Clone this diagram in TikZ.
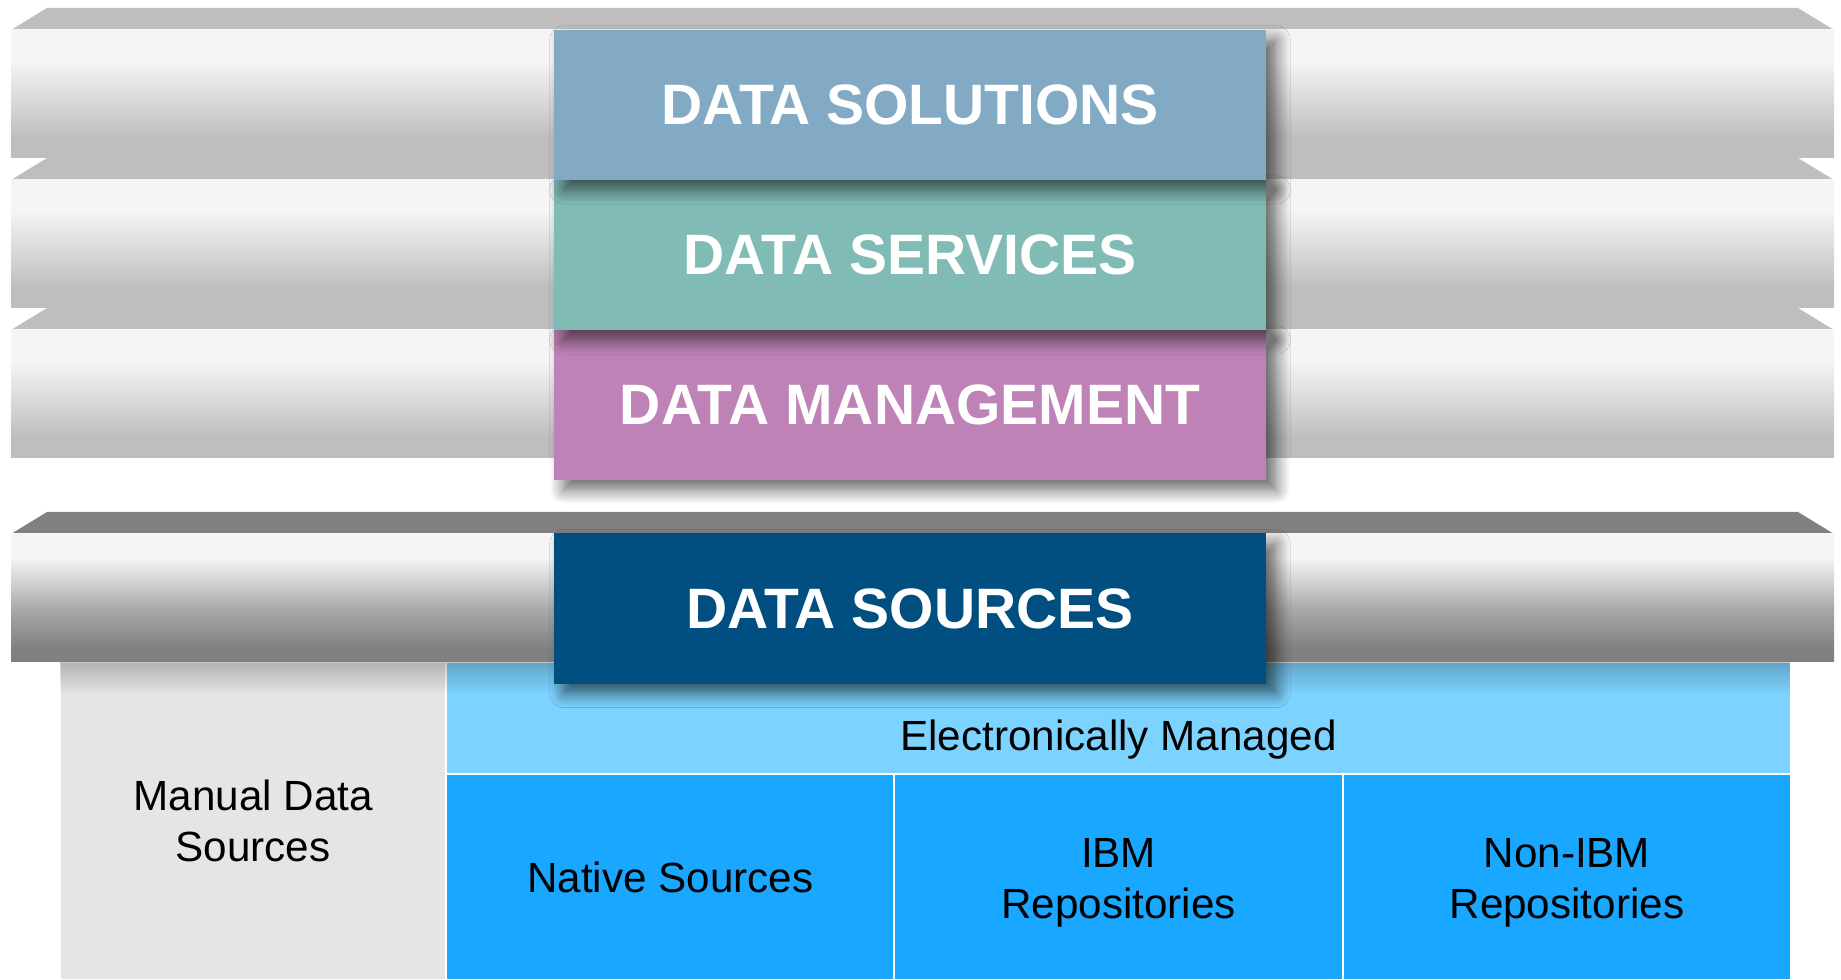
\documentclass[tikz,border=0pt]{standalone}
\usepackage{fontspec}
\setmainfont{Liberation Sans}
\usetikzlibrary{shadows.blur,fadings,positioning}

\definecolor{solcol}{HTML}{82AAC4}
\definecolor{svccol}{HTML}{80BBB5}
\definecolor{mgtcol}{HTML}{BE82B6}
\definecolor{srccol}{HTML}{004F80}
\definecolor{manualcol}{HTML}{E5E5E5}
\definecolor{elecol}{HTML}{7DD3FF}
\definecolor{repocol}{HTML}{1AA7FF}
\definecolor{toplight}{HTML}{BEBEBE}
\definecolor{topdark}{HTML}{808080}
\definecolor{facelight}{HTML}{F5F5F5}
\definecolor{facemid}{HTML}{D8D8D8}
\definecolor{darkmid}{HTML}{CDCDCD}
\definecolor{darklow}{HTML}{A6A6A6}

\pgfdeclareverticalshading{lightface}{100bp}{color(0bp)=(toplight); color(33bp)=(toplight);
  color(47bp)=(facemid); color(63bp)=(facelight); color(100bp)=(facelight)}
\pgfdeclareverticalshading{darkface}{100bp}{color(0bp)=(topdark); color(30bp)=(topdark);
  color(45bp)=(darklow); color(55bp)=(darkmid); color(66bp)=(facelight); color(100bp)=(facelight)}
\tikzfading[name=fadedown, top color=transparent!0, bottom color=transparent!100]

\begin{document}
\begin{tikzpicture}[x=0.01cm, y=-0.01cm,
    layer/.style={minimum width=7.12cm, minimum height=1.5cm, inner sep=0pt, text=white,
      font=\bfseries\fontsize{16.2}{19}\selectfont,
      blur shadow={shadow xshift=0.1cm, shadow yshift=-0.1cm, shadow blur radius=0.14cm,
        shadow blur steps=10, shadow opacity=60}},
    cell/.style={draw=white, line width=0.02cm, inner sep=0pt, outer sep=0pt, align=center,
      font=\fontsize{12}{14.6}\selectfont},
    repo/.style={cell, fill=repocol, minimum width=4.48cm, minimum height=2.06cm}]
    \useasboundingbox (0,0) rectangle (1841,980);

    % source cells
    \node[cell, fill=manualcol, minimum width=3.86cm, minimum height=3.18cm, anchor=north west] (manual) at (60,662) {Manual Data\\Sources};
    \node[cell, fill=elecol, minimum width=13.44cm, minimum height=1.12cm, anchor=north west,
      text height=0.75cm, text depth=0.1cm] (elec) at (manual.north east) {Electronically Managed};
    \node[repo, anchor=north west] (native) at (elec.south west) {Native Sources};
    \node[repo, right=0pt of native, text height=0.92cm] (ibm) {IBM\\Repositories};
    \node[repo, right=0pt of ibm, text height=0.92cm] (nonibm) {Non-IBM\\Repositories};
    \fill[black, opacity=0.22, path fading=fadedown] (60,662) rectangle (1790,694);

    % bottom bar
    \fill[topdark] (11,534) -- (47,512) -- (1798,512) -- (1834,534) -- cycle;
    \shade[shading=darkface] (11,534) rectangle (1834,662);
    \node[layer, fill=srccol] (src) at (910,608.5) {DATA SOURCES};

    % stacked bars
    \fill[toplight] (11,330) -- (47,308) -- (1798,308) -- (1834,330) -- cycle;
    \shade[shading=lightface] (11,330) rectangle (1834,458);
    \fill[toplight] (11,180) -- (47,158) -- (1798,158) -- (1834,180) -- cycle;
    \shade[shading=lightface] (11,180) rectangle (1834,308);
    \fill[toplight] (11,30) -- (47,8) -- (1798,8) -- (1834,30) -- cycle;
    \shade[shading=lightface] (11,30) rectangle (1834,158);

    \node[layer, fill=mgtcol] (mgt) at (910,405) {DATA MANAGEMENT};
    \node[layer, fill=svccol] (svc) at (910,255) {DATA SERVICES};
    \node[layer, fill=solcol] (sol) at (910,105) {DATA SOLUTIONS};
\end{tikzpicture}
\end{document}
